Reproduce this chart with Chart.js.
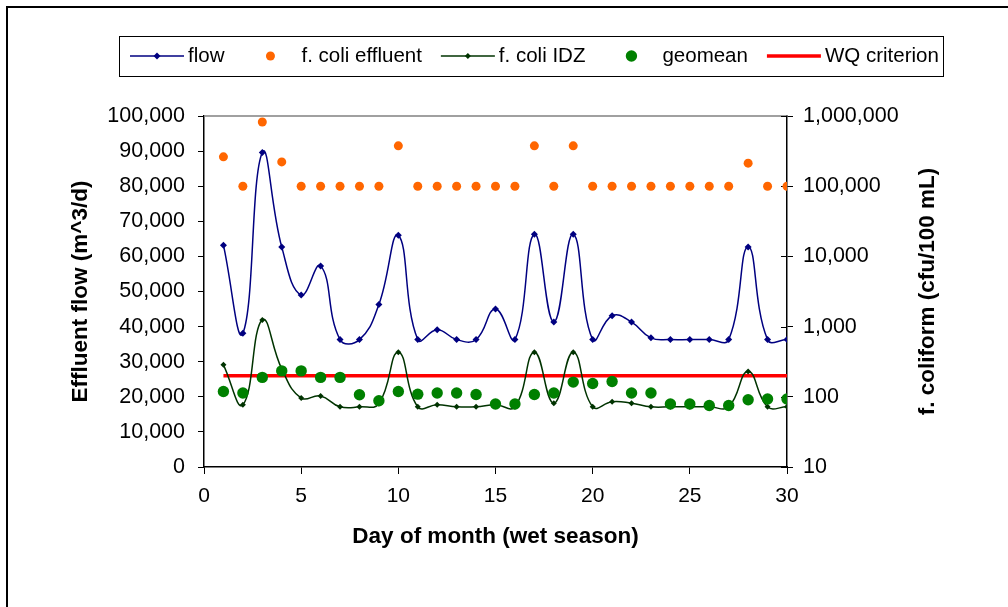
<!DOCTYPE html>
<html>
<head>
<meta charset="utf-8">
<title>Effluent flow and f. coliform - wet season</title>
<script src="https://cdn.jsdelivr.net/npm/chart.js@4.4.1/dist/chart.umd.min.js"></script>
<style>
  html, body { margin: 0; padding: 0; background: #fff; overflow: hidden; }
  #wrap { width: 1008px; height: 607px; }
</style>
</head>
<body>
<div id="wrap"><canvas id="chart" width="1008" height="607"></canvas></div>
<script>
// Day of month (wet season)
const days = [1, 2, 3, 4, 5, 6, 7, 8, 9, 10, 11, 12, 13, 14, 15,
              16, 17, 18, 19, 20, 21, 22, 23, 24, 25, 26, 27, 28, 29, 30];

// Effluent flow (m^3/d), left axis
const flow = [63200, 38100, 89600, 62700, 49000, 57300, 36300, 36300, 46300, 66000,
              36300, 39100, 36300, 36300, 45000, 36300, 66300, 41300, 66300, 36300,
              43100, 41300, 36800, 36300, 36300, 36300, 36300, 62700, 36300, 36300];

// f. coliform (cfu/100 mL), right axis
const coliEffluent = [262000, 100000, 820000, 222000, 100000, 100000, 100000, 100000, 100000, 376000,
                      100000, 100000, 100000, 100000, 100000, 100000, 376000, 100000, 376000, 100000,
                      100000, 100000, 100000, 100000, 100000, 100000, 100000, 213000, 100000, 100000];

const coliIDZ = [285, 77, 1245, 250, 96, 103, 72, 72, 80, 432,
                 72, 77, 72, 72, 77, 72, 432, 81, 432, 72,
                 85, 81, 72, 72, 72, 72, 72, 229, 72, 72];

const geomean = [119, 113, 189, 234, 234, 189, 189, 107, 88, 119,
                 109, 113, 113, 108, 79, 79, 108, 113, 162, 155,
                 165, 113, 113, 79, 79, 75, 75, 91, 93, 93];

// WQ criterion runs from day 1 to day 30
const wqDays = [1, 30];
const wqCriterion = [200, 200];

// tick labels
const dayTicks = [0, 5, 10, 15, 20, 25, 30];
const flowTicks = [0, 10000, 20000, 30000, 40000, 50000, 60000, 70000, 80000, 90000, 100000];
const coliTicks = [10, 100, 1000, 10000, 100000, 1000000];

const rightTitle = 'f. coliform (cfu/100 mL)';

const xy = (xs, ys) => xs.map((x, i) => ({ x: x, y: ys[i] }));
const fmt = v => Number(v).toLocaleString('en-US');

Chart.defaults.font.family = '"Liberation Sans", Arial, sans-serif';
Chart.defaults.color = '#000';

// white page with the outer chart frame (left and top edges show)
const frame = {
    id: 'frame',
    beforeDraw(chart) {
        const ctx = chart.ctx;
        ctx.save();
        ctx.fillStyle = '#fff';
        ctx.fillRect(0, 0, chart.width, chart.height);
        ctx.strokeStyle = '#000';
        ctx.lineWidth = 2;
        ctx.strokeRect(7, 7, chart.width + 40, chart.height + 40);
        ctx.restore();
    }
};

// grey top edge of the plot area, inner ticks on the right axis
const plotEdges = {
    id: 'plotEdges',
    beforeDatasetsDraw(chart) {
        const ctx = chart.ctx;
        const area = chart.chartArea;
        const right = chart.scales.y1;
        ctx.save();
        ctx.strokeStyle = '#808080';
        ctx.lineWidth = 1.5;
        ctx.beginPath();
        ctx.moveTo(area.left, area.top);
        ctx.lineTo(area.right, area.top);
        ctx.stroke();
        ctx.strokeStyle = '#000';
        ctx.lineWidth = 1;
        coliTicks.forEach(v => {
            const y = Math.round(right.getPixelForValue(v)) + 0.5;
            ctx.beginPath();
            ctx.moveTo(area.right - 6, y);
            ctx.lineTo(area.right, y);
            ctx.stroke();
        });
        ctx.restore();
    }
};

// right axis title reads bottom to top, like the left one
const rightAxisTitle = {
    id: 'rightAxisTitle',
    afterDraw(chart) {
        const ctx = chart.ctx;
        const area = chart.chartArea;
        ctx.save();
        ctx.translate(928, (area.top + area.bottom) / 2);
        ctx.rotate(-Math.PI / 2);
        ctx.font = 'bold 22.5px "Liberation Sans", Arial, sans-serif';
        ctx.fillStyle = '#000';
        ctx.textAlign = 'center';
        ctx.textBaseline = 'middle';
        ctx.fillText(rightTitle, 0, 0);
        ctx.restore();
    }
};

// boxed legend in one row above the plot
const boxLegend = {
    id: 'boxLegend',
    afterDraw(chart, args, opts) {
        const ctx = chart.ctx;
        ctx.save();
        ctx.fillStyle = '#fff';
        ctx.fillRect(opts.left, opts.top, opts.width, opts.height);
        ctx.strokeStyle = '#000';
        ctx.lineWidth = 1;
        ctx.strokeRect(opts.left + 0.5, opts.top + 0.5, opts.width, opts.height);
        ctx.font = opts.font;
        ctx.textBaseline = 'middle';
        const cy = opts.top + opts.height / 2;
        let x = opts.left + opts.startGap;
        chart.data.datasets.forEach(ds => {
            const cx = x + opts.symbolWidth / 2;
            if (ds.showLine !== false) {
                ctx.strokeStyle = ds.borderColor;
                ctx.lineWidth = ds.borderWidth;
                ctx.beginPath();
                ctx.moveTo(x, cy);
                ctx.lineTo(x + opts.symbolWidth, cy);
                ctx.stroke();
            }
            if (ds.pointRadius > 0) {
                const r = ds.pointRadius;
                ctx.fillStyle = ds.pointBackgroundColor;
                ctx.beginPath();
                if (ds.pointStyle === 'rectRot') {
                    ctx.moveTo(cx, cy - r);
                    ctx.lineTo(cx + r, cy);
                    ctx.lineTo(cx, cy + r);
                    ctx.lineTo(cx - r, cy);
                    ctx.closePath();
                } else {
                    ctx.arc(cx, cy, r, 0, Math.PI * 2);
                }
                ctx.fill();
            }
            ctx.fillStyle = '#000';
            ctx.fillText(ds.label, x + opts.symbolWidth + opts.textGap, cy);
            x += opts.symbolWidth + opts.textGap + ctx.measureText(ds.label).width + opts.itemGap;
        });
        ctx.restore();
    }
};

new Chart(document.getElementById('chart'), {
    type: 'line',
    data: {
        datasets: [
            {
                label: 'flow',
                yAxisID: 'y',
                data: xy(days, flow),
                borderColor: '#000080',
                borderWidth: 1.5,
                pointStyle: 'rectRot',
                pointRadius: 3.5,
                pointBackgroundColor: '#000080',
                pointBorderWidth: 0,
                tension: 0.45,
                order: 4
            },
            {
                label: 'f. coli effluent',
                yAxisID: 'y1',
                data: xy(days, coliEffluent),
                showLine: false,
                pointStyle: 'circle',
                pointRadius: 4.5,
                pointBackgroundColor: '#FF6600',
                pointBorderWidth: 0,
                order: 3
            },
            {
                label: 'f. coli IDZ',
                yAxisID: 'y1',
                data: xy(days, coliIDZ),
                borderColor: '#003300',
                borderWidth: 1.5,
                pointStyle: 'rectRot',
                pointRadius: 3,
                pointBackgroundColor: '#003300',
                pointBorderWidth: 0,
                tension: 0.45,
                order: 2
            },
            {
                label: 'geomean',
                yAxisID: 'y1',
                data: xy(days, geomean),
                showLine: false,
                pointStyle: 'circle',
                pointRadius: 5.7,
                pointBackgroundColor: '#008000',
                pointBorderWidth: 0,
                order: 1
            },
            {
                label: 'WQ criterion',
                yAxisID: 'y1',
                data: xy(wqDays, wqCriterion),
                borderColor: '#FF0000',
                borderWidth: 3.5,
                pointRadius: 0,
                order: 5
            }
        ]
    },
    options: {
        responsive: false,
        devicePixelRatio: 1,
        animation: false,
        layout: { padding: { top: 116, left: 0, right: 0, bottom: 0 } },
        plugins: {
            legend: { display: false },
            tooltip: { enabled: false },
            boxLegend: {
                left: 119, top: 36, width: 824, height: 40,
                font: '20.5px "Liberation Sans", Arial, sans-serif',
                startGap: 11, symbolWidth: 54, textGap: 4, itemGap: 19
            }
        },
        scales: {
            x: {
                type: 'linear',
                min: 0,
                max: 30,
                afterBuildTicks: s => { s.ticks = dayTicks.map(v => ({ value: v })); },
                afterFit: s => { s.height = 140; },
                grid: { drawOnChartArea: false, tickLength: 7, tickColor: '#000', tickWidth: 1 },
                border: { color: '#000', width: 1.5 },
                ticks: { font: { size: 21 }, padding: 10, maxRotation: 0, autoSkip: false },
                title: {
                    display: true,
                    text: 'Day of month (wet season)',
                    font: { size: 22.5, weight: 'bold' },
                    padding: { top: 0, bottom: 56.5 }
                }
            },
            y: {
                type: 'linear',
                position: 'left',
                min: 0,
                max: 100000,
                afterBuildTicks: s => { s.ticks = flowTicks.map(v => ({ value: v })); },
                afterFit: s => { s.width = 204; },
                grid: { drawOnChartArea: false, tickLength: 6, tickColor: '#000', tickWidth: 1 },
                border: { color: '#000', width: 1.5 },
                ticks: { font: { size: 21.5 }, padding: 13, callback: v => fmt(v) },
                title: {
                    display: true,
                    text: 'Effluent flow (m^3/d)',
                    font: { size: 22.5, weight: 'bold' },
                    padding: { top: 67.5, bottom: 0 }
                }
            },
            y1: {
                type: 'logarithmic',
                position: 'right',
                min: 10,
                max: 1000000,
                afterBuildTicks: s => { s.ticks = coliTicks.map(v => ({ value: v })); },
                afterFit: s => { s.width = 221; },
                grid: { drawOnChartArea: false, tickLength: 6, tickColor: '#000', tickWidth: 1 },
                border: { color: '#000', width: 1.5 },
                ticks: { font: { size: 21.5 }, padding: 10, autoSkip: false, callback: v => fmt(v) },
                title: { display: false }
            }
        }
    },
    plugins: [frame, plotEdges, rightAxisTitle, boxLegend]
});
</script>
</body>
</html>
